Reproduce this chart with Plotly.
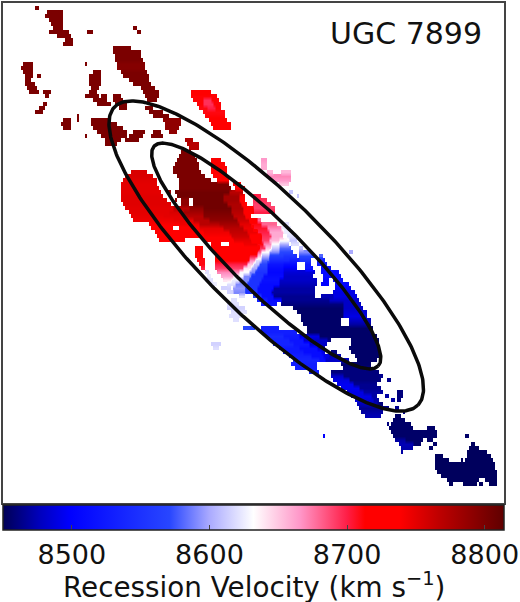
import numpy as np
import plotly.graph_objects as go

# Velocity map: each row is (row top, (x from, x to, km/s), ...)
NORTH_CLUMPS = [
 (8,(36,40,8800)),
 (12,(48,64,8800)),(16,(46,64,8800)),(20,(50,64,8800)),(24,(53,64,8800)),(28,(55,64,8800),(135,139,8800)),
 (32,(50,70,8800),(88,95,8800),(138,142,8800)),(36,(58,72,8800)),(40,(66,74,8800)),(44,(65,68,8800),(69,75,8800)),
 (48,(115,132,8800)),(52,(115,142,8800)),(56,(116,143,8800)),(60,(116,145,8800)),
 (64,(24,34,8800),(118,146,8795),(86,89,8800)),(68,(23,35,8800),(118,146,8795)),(72,(24,35,8800),(95,103,8800),(122,148,8800)),
 (76,(26,35,8800),(39,42,8800),(90,103,8800),(125,150,8800)),(80,(26,33,8800),(90,103,8800),(130,150,8800)),
 (84,(26,36,8800),(90,102,8800),(135,152,8800)),(88,(28,38,8800),(92,100,8800),(143,156,8800)),
 (92,(30,40,8800),(44,52,8800),(90,98,8800),(145,160,8800)),
 (96,(46,50,8800),(86,100,8800),(103,108,8800),(115,123,8800),(146,160,8800)),
 (100,(94,108,8800),(115,124,8800),(148,158,8800)),(104,(44,48,8800),(98,108,8800),(109,112,8800),(116,128,8800)),
 (108,(40,46,8800),(120,128,8800),(147,155,8800)),(112,(37,44,8800),(150,165,8800)),(116,(78,80,8800),(155,170,8800)),
 (120,(64,73,8800),(78,80,8800),(92,110,8800),(165,183,8790)),(124,(63,73,8800),(92,118,8800),(166,183,8790)),
 (128,(65,72,8800),(94,125,8800),(167,180,8790)),(132,(98,128,8800),(155,162,8800),(170,178,8790)),
 (134,(135,146,8800)),(136,(86,89,8800),(102,128,8800),(153,165,8800)),(138,(130,145,8800)),
 (140,(106,122,8800),(187,195,8775)),(142,(127,140,8800)),(144,(106,118,8800),(188,201,8770)),(148,(190,200,8770)),
]
PINK_CLUMP = [
 (92,(193,212,8715)),(96,(193,218,8712)),(100,(195,205,8712),(205,212,8695),(212,220,8712)),
 (104,(198,204,8712),(204,214,8695),(214,222,8712)),(108,(200,208,8710),(208,216,8700),(216,223,8712)),
 (112,(204,226,8710)),(116,(207,226,8712)),(120,(210,228,8715)),(124,(212,232,8718)),(128,(215,232,8720)),
]
UPPER_PINK = [
 (160,(262,268,8665)),(164,(262,268,8660)),(168,(263,268,8660)),(172,(268,275,8655),(282,292,8655)),
 (176,(268,293,8670)),(180,(272,293,8665)),(184,(280,291,8650)),(192,(291,294,8610)),(196,(298,301,8610)),
]
RED_DISC = [
 (152,(182,192,8800)),(156,(180,196,8800)),(160,(178,198,8800),(213,222,8740)),(164,(177,200,8800),(212,226,8740)),
 (168,(175,201,8800),(212,228,8740)),(172,(132,148,8755),(175,203,8800),(212,229,8735)),
 (176,(127,155,8755),(178,206,8800),(215,229,8735)),(180,(124,158,8752),(180,212,8800),(218,230,8735)),
 (184,(123,158,8750),(180,230,8800),(235,243,8740)),(188,(123,160,8750),(180,232,8800),(236,246,8735)),
 (192,(122,163,8750),(168,172,8790),(176,230,8805),(230,245,8770)),
 (196,(122,165,8752),(178,225,8805),(225,240,8780),(240,246,8740),(255,262,8700)),
 (200,(122,168,8752),(176,178,8790),(182,190,8790),(195,225,8805),(225,240,8780),(240,247,8730),(255,268,8695)),
 (204,(124,172,8752),(182,190,8790),(195,228,8805),(228,242,8775),(242,248,8730),(254,272,8690)),
 (208,(127,175,8750),(175,190,8770),(190,205,8790),(205,232,8805),(232,245,8775),(245,255,8730),(255,277,8690)),
 (212,(130,170,8750),(170,185,8755),(185,205,8780),(205,232,8800),(232,245,8770),(245,254,8730),(254,277,8700)),
 (216,(132,165,8748),(165,185,8750),(185,205,8770),(205,235,8795),(235,247,8765),(247,253,8725)),
 (220,(134,175,8745),(175,195,8748),(195,210,8770),(210,238,8790),(238,250,8760),(250,258,8720),(258,262,8680)),
 (224,(150,180,8740),(180,200,8745),(200,220,8770),(220,240,8780),(240,252,8750),(252,262,8710),(262,278,8680),(285,290,8620)),
 (228,(153,175,8735),(181,200,8735),(200,225,8750),(225,245,8770),(245,255,8745),(255,268,8705),(268,282,8670),(283,292,8625)),
 (232,(156,180,8735),(180,205,8735),(205,230,8745),(230,248,8765),(248,258,8745),(258,270,8700),(270,285,8660),(285,295,8625)),
 (236,(158,187,8730),(187,205,8730),(205,232,8740),(232,250,8760),(250,262,8735),(262,272,8695),(272,285,8660),(288,296,8620)),
 (240,(160,187,8730),(205,235,8730),(235,252,8750),(252,262,8730),(262,270,8690),(270,280,8655),(280,290,8635),(290,298,8610)),
 (244,(212,223,8725),(230,245,8735),(245,258,8745),(258,264,8710),(264,272,8670),(272,280,8630),(280,290,8600),(292,300,8620)),
 (248,(197,205,8725),(213,245,8725),(245,260,8735),(260,266,8695),(266,272,8650),(272,280,8610),(280,292,8580),(300,305,8610)),
 (252,(197,205,8720),(215,250,8725),(250,258,8725),(258,263,8680),(263,270,8630),(270,280,8590),(280,295,8570),(300,312,8590),(350,355,8600)),
 (256,(197,205,8715),(216,250,8720),(250,258,8700),(258,263,8650),(263,270,8600),(270,285,8560),(285,298,8550),(300,316,8570),(320,325,8580)),
 (260,(199,206,8710),(216,250,8715),(250,256,8670),(256,262,8620),(262,270,8580),(270,290,8540),(290,300,8530),(300,313,8550),(318,327,8530)),
 (264,(200,207,8710),(216,248,8700),(248,254,8650),(254,260,8610),(260,268,8570),(268,285,8520),(285,298,8510),(307,312,8525),(318,328,8520)),
 (268,(202,207,8700),(217,245,8690),(245,252,8640),(252,258,8600),(258,268,8560),(268,285,8510),(285,298,8495),(307,315,8520),(322,332,8510)),
 (272,(206,210,8620),(218,240,8670),(240,250,8630),(250,256,8590),(256,268,8550),(268,285,8505),(285,316,8485),(323,340,8510)),
 (276,(208,212,8625),(222,235,8660),(235,245,8630),(245,252,8590),(252,265,8550),(265,285,8510),(285,315,8480),(325,342,8510)),
 (280,(206,215,8620),(225,232,8640),(232,240,8625),(240,250,8590),(250,262,8550),(262,280,8515),(280,318,8480),(325,330,8500),(334,345,8510)),
 (284,(210,218,8625),(228,236,8620),(236,248,8590),(248,260,8550),(260,280,8510),(280,318,8475),(323,330,8500),(336,350,8505)),
 (288,(222,232,8615),(234,246,8595),(246,258,8550),(258,275,8510),(275,316,8470),(337,352,8495)),
 (292,(228,235,8615),(235,246,8590),(246,258,8550),(258,272,8510),(272,316,8470),(335,356,8490)),
 (296,(240,246,8620),(255,262,8560),(262,275,8510),(275,317,8465),(323,335,8475),(335,358,8490)),
 (300,(232,238,8620),(258,268,8530),(268,282,8510),(282,330,8465),(330,360,8480)),
 (304,(228,240,8620),(262,278,8520),(283,345,8460),(345,362,8480)),
 (308,(228,246,8615),(295,345,8455),(345,364,8480)),
 (312,(232,248,8620),(298,345,8455),(345,368,8485)),
 (316,(230,245,8620),(303,345,8455),(345,368,8490)),
 (320,(235,240,8620),(303,342,8455),(350,372,8480)),
 (324,(305,342,8455),(350,372,8470)),
 (328,(245,256,8570),(263,280,8530),(309,375,8455)),
 (332,(263,298,8530),(308,375,8455)),
 (336,(266,285,8540),(285,300,8525),(300,320,8490),(320,378,8455)),
 (340,(272,290,8535),(290,305,8520),(305,328,8480),(328,333,8460),(352,380,8455)),
 (344,(212,222,8615),(275,295,8535),(295,310,8520),(310,328,8480),(352,380,8455)),
 (348,(214,221,8620),(280,300,8525),(300,318,8510),(318,327,8480),(350,380,8455)),
 (352,(285,305,8525),(305,322,8510),(322,326,8490),(332,338,8460),(353,381,8455)),
 (356,(290,312,8530),(312,325,8510),(325,330,8490),(330,343,8475),(357,380,8455)),
 (360,(295,320,8535),(320,326,8510),(326,350,8480),(358,378,8455)),
 (364,(292,318,8530),(343,372,8455)),
 (368,(296,318,8530),(345,372,8460)),
 (372,(310,320,8530),(333,380,8460)),
 (376,(332,345,8480),(345,382,8460),(381,385,8465)),
 (380,(335,350,8490),(350,382,8460),(388,393,8465)),
 (384,(338,355,8495),(355,378,8465)),
 (388,(342,360,8495),(360,382,8465)),
 (392,(348,365,8490),(365,385,8470),(398,404,8460)),
 (396,(352,372,8490),(372,378,8470),(387,390,8470),(398,404,8460)),
 (400,(356,375,8485),(375,380,8470),(393,396,8470),(399,403,8460)),
 (404,(358,378,8475),(378,384,8460)),
 (408,(361,390,8465),(397,400,8465)),
 (412,(363,385,8470),(404,407,8465)),
 (416,(367,382,8475),(396,402,8455)),
]
SOUTH_CLUMPS = [
 (420,(394,406,8455)),(424,(388,391,8460),(392,412,8455)),(428,(390,414,8455),(428,437,8455)),
 (432,(392,439,8455)),(436,(325,327,8500),(394,439,8455),(467,470,8455)),(440,(396,406,8470),(406,424,8455),(428,434,8455)),
 (444,(400,415,8475),(415,422,8455),(435,438,8455),(473,477,8452)),(448,(402,415,8472),(431,434,8455),(470,480,8452)),
 (452,(402,405,8470),(468,488,8452)),(456,(436,444,8452),(468,492,8452)),(460,(436,450,8452),(462,465,8452),(466,494,8452)),
 (464,(436,496,8452)),(468,(436,497,8452)),(472,(438,498,8452)),(476,(443,498,8452)),(480,(448,480,8452),(487,499,8452)),
 (484,(450,455,8452),(465,478,8452),(480,485,8452),(490,498,8452)),
]

TICK_VELOCITIES = [8500, 8600, 8700, 8800]
VELOCITY_RANGE = [8450, 8814]
COLOR_STOPS = [
 (8450,"rgb(0,0,85)"),(8477,"rgb(0,0,190)"),(8499,"rgb(0,0,255)"),(8571,"rgb(40,70,255)"),
 (8600,"rgb(170,170,255)"),(8632,"rgb(255,255,255)"),(8666,"rgb(255,150,200)"),(8700,"rgb(255,30,70)"),
 (8713,"rgb(255,0,0)"),(8738,"rgb(255,0,0)"),(8767,"rgb(190,0,0)"),(8814,"rgb(95,0,0)"),
]
# Ellipses: centre, semi-major, semi-minor, position angle (degrees)
ELLIPSES = [(266.5,256,212.8,59.7,44.5),(266.5,256,157,35.3,44.5)]

XCELL, YCELL = 2, 4
xs = np.arange(0, 510, XCELL)
ys = np.arange(0, 508, YCELL)
z = np.full((len(ys), len(xs)), np.nan)
for group in (NORTH_CLUMPS, PINK_CLUMP, UPPER_PINK, RED_DISC, SOUTH_CLUMPS):
    for row in group:
        top, segments = row[0], row[1:]
        i = top // YCELL
        for x0, x1, v in segments:
            z[i, x0 // XCELL:max(x1 // XCELL, x0 // XCELL + 1)] = v

lo, hi = VELOCITY_RANGE
scale = [[(v - lo) / (hi - lo), c] for v, c in COLOR_STOPS]

fig = go.Figure()
fig.add_trace(go.Heatmap(
    x=xs, y=ys, z=z, zmin=lo, zmax=hi, colorscale=scale, zsmooth="best",
    hoverongaps=False,
    colorbar=dict(
        orientation="h", x=0, xanchor="left", xref="paper", y=-0.004, yanchor="top", yref="paper",
        len=1, lenmode="fraction", thickness=25, thicknessmode="pixels", xpad=0, ypad=0,
        outlinecolor="#222", outlinewidth=1.5,
        tickvals=TICK_VELOCITIES, ticks="inside", ticklen=5, tickcolor="#444", tickwidth=1,
        tickfont=dict(family="DejaVu Sans", size=27, color="#111"),
    ),
))
for cx, cy, a, b, ang in ELLIPSES:
    t = np.linspace(0, 2 * np.pi, 361)
    th = np.radians(ang)
    fig.add_trace(go.Scatter(
        x=cx + a * np.cos(t) * np.cos(th) - b * np.sin(t) * np.sin(th),
        y=cy + a * np.cos(t) * np.sin(th) + b * np.sin(t) * np.cos(th),
        mode="lines", line=dict(color="#0a0a0a", width=3.5), hoverinfo="skip", showlegend=False,
    ))
fig.add_annotation(x=406.5, y=33.5, xref="x", yref="y", text="UGC 7899", showarrow=False,
                   font=dict(family="DejaVu Sans", size=30, color="#111"))
fig.add_annotation(x=0.5, y=-0.164, xref="paper", yref="paper", xanchor="center", yanchor="middle",
                   text="Recession Velocity (km s<sup>\u22121</sup>)", showarrow=False,
                   font=dict(family="DejaVu Sans", size=27.8, color="#111"))
axis = dict(showticklabels=False, ticks="", showgrid=False, zeroline=False, showline=True,
            linecolor="#444", linewidth=2, mirror=True)
fig.update_xaxes(range=[3, 504.5], **axis)
fig.update_yaxes(range=[503, 3], **axis)
fig.update_layout(width=520, height=602, margin=dict(l=3, r=15.5, t=3, b=99, autoexpand=False),
                  paper_bgcolor="white", plot_bgcolor="white", showlegend=False)
fig.write_html("out.html", config={"displayModeBar": False}, post_script="document.body.style.margin='0';")
